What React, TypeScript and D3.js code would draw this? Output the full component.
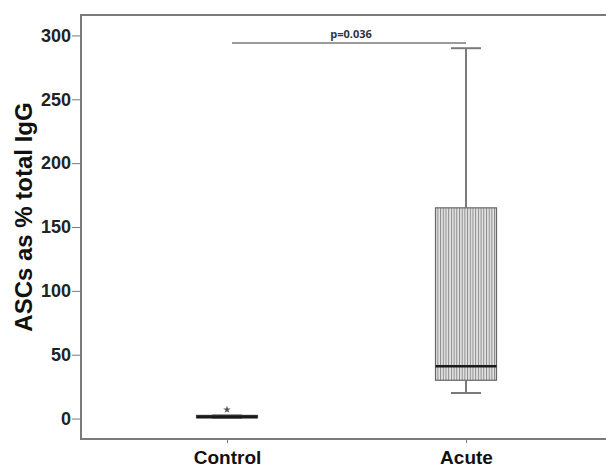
import React, { useEffect, useRef } from 'react';
import * as d3 from 'd3';

const groups = ['Control', 'Acute'];
// five-number summaries
const lowWhisker = [0.5, 20];
const q1 = [0.5, 30];
const median = [1.5, 41];
const q3 = [2.5, 165];
const highWhisker = [2.5, 290];
const outliers = [[7], []];
const yTicks = [0, 50, 100, 150, 200, 250, 300];
const pLabel = 'p=0.036';

const App = () => {
  const svgRef = useRef<SVGSVGElement>(null);

  useEffect(() => {
    const svg = d3.select(svgRef.current);
    svg.selectAll('*').remove();

    const left = 81, right = 606, top = 15, bottom = 439;
    const y = d3.scaleLinear().domain([-16, 316]).range([bottom, top]);
    const x = d3.scalePoint().domain(groups).range([227, 466]);
    const boxW = 61;
    const gray = '#7a7a7a';

    // stripe pattern for boxes
    const defs = svg.append('defs');
    const pat = defs.append('pattern')
      .attr('id', 'stripes')
      .attr('patternUnits', 'userSpaceOnUse')
      .attr('width', 2.7)
      .attr('height', 10);
    pat.append('rect').attr('width', 2.7).attr('height', 10).attr('fill', '#e4e4e4');
    pat.append('rect').attr('width', 1).attr('height', 10).attr('fill', '#8a8a8a');

    // frame
    svg.append('path')
      .attr('d', `M${right},${top}H${left}V${bottom}H${right}`)
      .attr('fill', 'none')
      .attr('stroke', gray)
      .attr('stroke-width', 2);

    // y axis
    const ya = svg.append('g')
      .attr('transform', `translate(${left},0)`)
      .call(d3.axisLeft(y).tickValues(yTicks).tickSize(9).tickPadding(1));
    ya.select('.domain').remove();
    ya.selectAll('line').attr('stroke', gray);
    ya.selectAll('text')
      .style('font-family', 'Liberation Sans, Arial, sans-serif')
      .style('font-size', '18px')
      .style('font-weight', 'bold')
      .attr('fill', '#222');

    // x axis
    const xa = svg.append('g')
      .attr('transform', `translate(0,${bottom})`)
      .call(d3.axisBottom(x).tickSize(4).tickPadding(8));
    xa.select('.domain').remove();
    xa.selectAll('line').attr('stroke', gray);
    xa.selectAll('text')
      .style('font-family', 'Liberation Sans, Arial, sans-serif')
      .style('font-size', '19px')
      .style('font-weight', 'bold')
      .attr('fill', '#111');

    // y label
    svg.append('text')
      .attr('transform', `translate(32,217) rotate(-90)`)
      .attr('text-anchor', 'middle')
      .style('font-family', 'Liberation Sans, Arial, sans-serif')
      .style('font-size', '24px')
      .style('font-weight', 'bold')
      .attr('fill', '#111')
      .text('ASCs as % total IgG');

    // boxes
    groups.forEach((g, i) => {
      const cx = x(g) as number;
      const bg = svg.append('g');
      // whiskers
      bg.append('line')
        .attr('x1', cx).attr('x2', cx)
        .attr('y1', y(highWhisker[i])).attr('y2', y(q3[i]))
        .attr('stroke', gray).attr('stroke-width', 2);
      bg.append('line')
        .attr('x1', cx).attr('x2', cx)
        .attr('y1', y(lowWhisker[i])).attr('y2', y(q1[i]))
        .attr('stroke', gray).attr('stroke-width', 2);
      [lowWhisker[i], highWhisker[i]].forEach(v => {
        bg.append('line')
          .attr('x1', cx - 15).attr('x2', cx + 15)
          .attr('y1', y(v)).attr('y2', y(v))
          .attr('stroke', gray).attr('stroke-width', 2);
      });
      bg.append('rect')
        .attr('x', cx - boxW / 2)
        .attr('width', boxW)
        .attr('y', y(q3[i]))
        .attr('height', y(q1[i]) - y(q3[i]))
        .attr('fill', 'url(#stripes)')
        .attr('stroke', '#666')
        .attr('stroke-width', 1.2);
      bg.append('line')
        .attr('x1', cx - boxW / 2).attr('x2', cx + boxW / 2)
        .attr('y1', y(median[i])).attr('y2', y(median[i]))
        .attr('stroke', '#1a1a1a').attr('stroke-width', i === 0 ? 3 : 2.5);
      outliers[i].forEach(v => {
        bg.append('path')
          .attr('d', d3.symbol(d3.symbolStar, 18)())
          .attr('transform', `translate(${cx},${y(v)})`)
          .attr('fill', '#555');
      });
    });

    // significance bar
    const yp = 43;
    svg.append('line')
      .attr('x1', 232).attr('x2', x('Acute') as number)
      .attr('y1', yp).attr('y2', yp)
      .attr('stroke', gray).attr('stroke-width', 1.5);
    svg.append('text')
      .attr('x', 351)
      .attr('y', yp - 5)
      .attr('text-anchor', 'middle')
      .style('font-family', 'Open Sans, DejaVu Sans, sans-serif')
      .style('font-size', '11px')
      .style('font-weight', 'bold')
      .attr('fill', '#2e3440')
      .text(pLabel);
  }, []);

  return (
    <svg
      ref={svgRef}
      width={606}
      height={467}
      style={{ position: 'absolute', left: 0, top: 0, background: '#fff' }}
    />
  );
};

export default App;
